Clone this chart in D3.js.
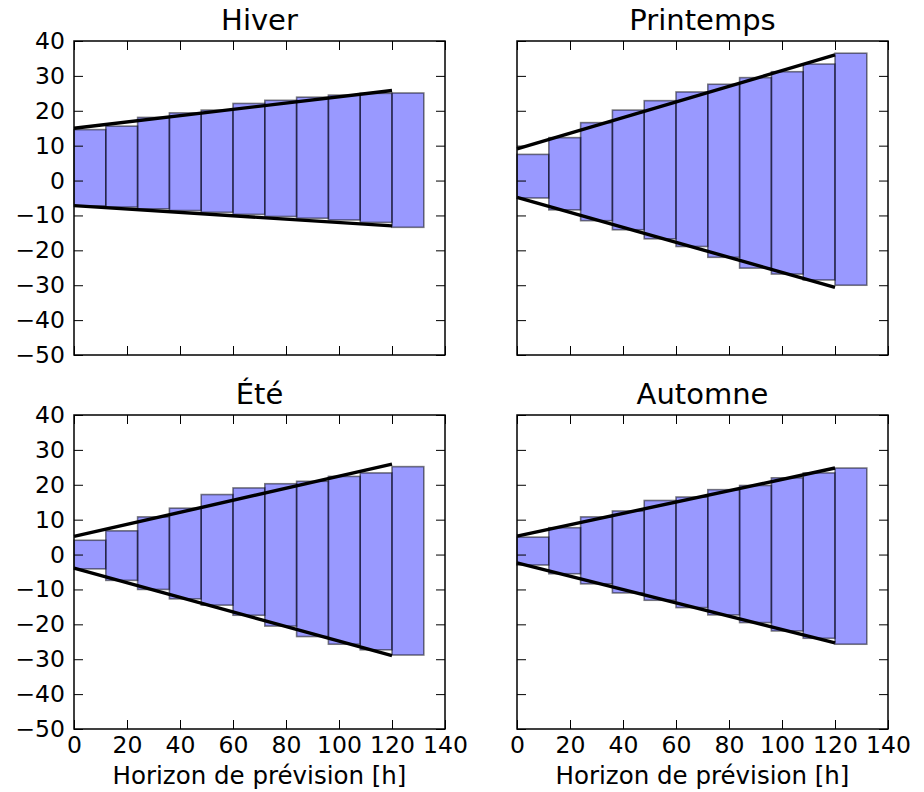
<!DOCTYPE html>
<html lang="fr">
  <head>
    <meta charset="utf-8" />
    <title>Horizon de prévision</title>
    <script src="https://d3js.org/d3.v7.min.js"></script>
    <style>
      body { margin: 0; background: #fff; }
      svg { display: block; }
      text { font-family: "DejaVu Sans", sans-serif; fill: #000; }
    </style>
  </head>
  <body>
    <svg width="924" height="792"></svg>
  </body>
  <script>
    // Bar left edges (hours) and bar width
    const horizons = [0, 12, 24, 36, 48, 60, 72, 84, 96, 108, 120];
    const barWidth = 12;
    const lineX = [0, 120];

    const yTicks = [-50, -40, -30, -20, -10, 0, 10, 20, 30, 40];
    const xTicks = [0, 20, 40, 60, 80, 100, 120, 140];

    // Hiver
    const hiverHaut = [14.6, 15.6, 18.1, 19.4, 20.2, 22.1, 23.0, 23.9, 24.5, 25.0, 25.1];
    const hiverBas = [-7.3, -7.6, -8.1, -8.6, -9.1, -9.7, -10.3, -10.8, -11.3, -12.0, -13.4];
    const hiverLigneHaut = [15.0, 25.8];
    const hiverLigneBas = [-7.2, -13.0];

    // Printemps
    const printempsHaut = [7.5, 12.3, 16.6, 20.2, 22.9, 25.4, 27.6, 29.5, 31.2, 33.4, 36.5];
    const printempsBas = [-5.0, -8.4, -11.5, -14.1, -16.7, -18.9, -22.0, -25.1, -26.8, -28.5, -30.0];
    const printempsLigneHaut = [9.1, 36.0];
    const printempsLigneBas = [-4.8, -30.6];

    // Été
    const eteHaut = [4.1, 6.8, 10.8, 13.3, 17.2, 19.1, 20.3, 21.0, 22.4, 23.4, 25.2];
    const eteBas = [-4.1, -7.4, -10.0, -12.7, -14.5, -17.4, -20.5, -23.5, -25.7, -27.3, -28.8];
    const eteLigneHaut = [5.2, 25.9];
    const eteLigneBas = [-3.9, -29.0];

    // Automne
    const automneHaut = [5.0, 7.7, 10.8, 12.5, 15.5, 16.5, 18.6, 19.8, 22.0, 23.4, 24.8];
    const automneBas = [-3.0, -5.5, -8.4, -11.0, -13.1, -15.2, -17.3, -19.5, -21.9, -24.0, -25.7];
    const automneLigneHaut = [5.3, 24.8];
    const automneLigneBas = [-2.4, -25.3];

    const panels = [
      { title: 'Hiver', haut: hiverHaut, bas: hiverBas, lh: hiverLigneHaut, lb: hiverLigneBas,
        left: 74, top: 41, yLabels: true, xLabels: false },
      { title: 'Printemps', haut: printempsHaut, bas: printempsBas, lh: printempsLigneHaut, lb: printempsLigneBas,
        left: 517, top: 41, yLabels: false, xLabels: false },
      { title: 'Été', haut: eteHaut, bas: eteBas, lh: eteLigneHaut, lb: eteLigneBas,
        left: 74, top: 415, yLabels: true, xLabels: true },
      { title: 'Automne', haut: automneHaut, bas: automneBas, lh: automneLigneHaut, lb: automneLigneBas,
        left: 517, top: 415, yLabels: false, xLabels: true }
    ];

    const width = 371;
    const height = 314;
    const tickLen = 9;
    const fmt = (d) => d < 0 ? '\u2212' + Math.abs(d) : String(d);

    const svg = d3.select('svg');

    const x = d3.scaleLinear().domain([0, 140]).range([0, width]);
    const y = d3.scaleLinear().domain([-50, 40]).range([height, 0]);

    panels.forEach((p) => {
      const g = svg.append('g').attr('transform', `translate(${p.left}, ${p.top})`);

      // Bars from lower to upper bound
      g.append('g')
        .selectAll('rect')
        .data(horizons)
        .join('rect')
        .attr('x', (d) => x(d))
        .attr('width', x(barWidth) - x(0))
        .attr('y', (d, i) => y(p.haut[i]))
        .attr('height', (d, i) => y(p.bas[i]) - y(p.haut[i]))
        .attr('fill', 'blue')
        .attr('fill-opacity', 0.4)
        .attr('stroke', 'black')
        .attr('stroke-opacity', 0.5)
        .attr('stroke-width', 1.6);

      // Envelope lines
      const line = d3.line().x((d) => x(d[0])).y((d) => y(d[1]));
      [p.lh, p.lb].forEach((vals) => {
        g.append('path')
          .datum(lineX.map((xv, i) => [xv, vals[i]]))
          .attr('d', line)
          .attr('fill', 'none')
          .attr('stroke', 'black')
          .attr('stroke-width', 3.4);
      });

      // Axes with inward ticks
      const axisStyle = (sel) => {
        sel.select('.domain').remove();
        sel.selectAll('.tick line').attr('stroke', 'black').attr('stroke-width', 1);
        sel.selectAll('.tick text').attr('fill', 'black').style('font-size', '23.5px');
      };

      g.append('g')
        .call(d3.axisLeft(y).tickValues(yTicks).tickSize(-tickLen).tickPadding(9)
          .tickFormat(p.yLabels ? fmt : ''))
        .call(axisStyle);
      g.append('g')
        .attr('transform', `translate(${width}, 0)`)
        .call(d3.axisRight(y).tickValues(yTicks).tickSize(-tickLen).tickFormat(''))
        .call(axisStyle);
      g.append('g')
        .attr('transform', `translate(0, ${height})`)
        .call(d3.axisBottom(x).tickValues(xTicks).tickSize(-tickLen).tickPadding(7)
          .tickFormat(p.xLabels ? fmt : ''))
        .call(axisStyle);
      g.append('g')
        .call(d3.axisTop(x).tickValues(xTicks).tickSize(-tickLen).tickFormat(''))
        .call(axisStyle);

      g.selectAll('.tick text').attr('font-family', null);

      // Frame
      g.append('rect')
        .attr('width', width)
        .attr('height', height)
        .attr('fill', 'none')
        .attr('stroke', 'black')
        .attr('stroke-width', 1.5);

      // Title
      g.append('text')
        .attr('x', width / 2)
        .attr('y', -11)
        .attr('text-anchor', 'middle')
        .style('font-size', '29px')
        .text(p.title);

      if (p.xLabels) {
        g.append('text')
          .attr('x', width / 2)
          .attr('y', height + 55)
          .attr('text-anchor', 'middle')
          .style('font-size', '24.5px')
          .text('Horizon de prévision [h]');
      }
    });
  </script>
</html>
